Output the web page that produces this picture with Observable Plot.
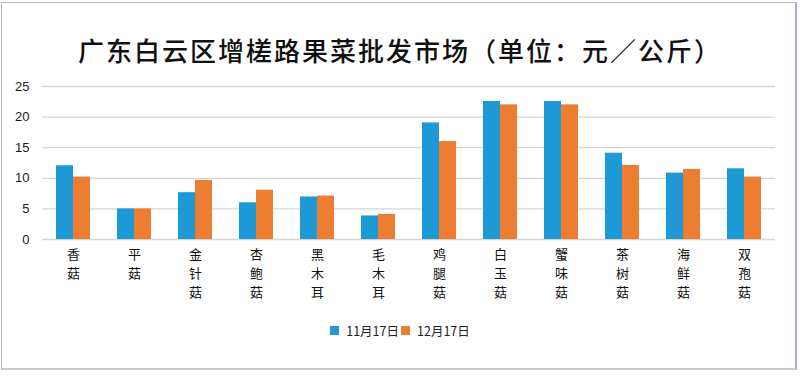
<!DOCTYPE html>
<html>
<head>
<meta charset="utf-8">
<script src="https://cdn.jsdelivr.net/npm/d3@7"></script>
<script src="https://cdn.jsdelivr.net/npm/@observablehq/plot@0.6"></script>
<style>
  html, body { margin: 0; padding: 0; background: #fff; }
  body { width: 800px; height: 376px; position: relative; overflow: hidden; font-family: "Noto Sans CJK SC", "Liberation Sans", sans-serif; }
  #frame { position: absolute; left: 1px; top: 2px; width: 796px; height: 368px; box-sizing: border-box;
           border-top: 1px solid #bdbdbd; border-left: 1px solid #bdbdbd; border-bottom: 2px solid #c9c9c9; border-right: 2px solid #a9a9f6; }
  #title { position: absolute; left: 0; top: 33px; width: 800px; text-align: center; font-size: 26px; line-height: 34px;
           letter-spacing: 2px; color: #111; font-weight: 500; font-family: "Noto Sans CJK SC", sans-serif; }
  #chart { position: absolute; left: 0; top: 70px; }
  #legend { position: absolute; left: 0; top: 322px; width: 800px; text-align: center; font-size: 12.5px; color: #222;
            font-family: "Noto Sans CJK SC", sans-serif; line-height: 16px; }
  #legend span.item { display: inline-flex; align-items: center; margin: 0 1px; }
  #legend span.sw { display: inline-block; width: 9px; height: 9px; margin-right: 7px; }
</style>
</head>
<body>
<div id="frame"></div>
<div id="title"></div>
<div id="chart"></div>
<div id="legend"></div>
<script>
const title = "广东白云区增槎路果菜批发市场（单位：元／公斤）";
const categories = ["香菇","平菇","金针菇","杏鲍菇","黑木耳","毛木耳","鸡腿菇","白玉菇","蟹味菇","茶树菇","海鲜菇","双孢菇"];
const seriesNames = ["11月17日","12月17日"];
const nov17 = [12.05, 5.0, 7.65, 6.0, 6.95, 3.85, 19.05, 22.55, 22.55, 14.1, 10.85, 11.55];
const dec17 = [10.2, 5.0, 9.65, 8.05, 7.1, 4.1, 16.0, 22.0, 22.0, 12.1, 11.45, 10.2];
const yTicks = [0, 5, 10, 15, 20, 25];
const colors = ["#1d9ad6", "#ed7d31"];

document.getElementById("title").textContent = title;

const rowsA = categories.map((c, i) => ({cat: c, value: nov17[i]}));
const rowsB = categories.map((c, i) => ({cat: c, value: dec17[i]}));

const xOpts = {domain: categories, paddingInner: 0.45, paddingOuter: 0.22};
const common = {
  width: 800, height: 240,
  marginLeft: 42, marginRight: 25, marginTop: 16, marginBottom: 71,
  style: {background: "transparent", overflow: "visible"}
};

// vertical (stacked) category labels: one axis per character row
const maxChars = d3.max(categories, c => Array.from(c).length);
const lineStep = 19;

function build(bw) {
  const half = bw / 2;
  const labelAxes = d3.range(maxChars).map(k =>
    Plot.axisX({tickSize: 0, tickPadding: 10 + k * lineStep, fontSize: 13, fill: "#111",
      fontFamily: "Noto Sans CJK SC, sans-serif", label: null,
      tickFormat: d => Array.from(d)[k] || ""}));
  return Plot.plot({
    ...common,
    x: {...xOpts, label: null},
    y: {domain: [0, 25], label: null},
    marks: [
      Plot.ruleY(yTicks, {stroke: "#d6d6d6", strokeWidth: 1.3}),
      Plot.axisY(yTicks, {tickSize: 0, tickPadding: 13, fontSize: 13, fill: "#1a1a1a",
        fontFamily: "Liberation Sans, Arial, sans-serif", label: null}),
      ...labelAxes,
      Plot.barY(rowsA, {x: "cat", y: "value", fill: colors[0], insetLeft: 0, insetRight: half}),
      Plot.barY(rowsB, {x: "cat", y: "value", fill: colors[1], insetLeft: half, insetRight: 0})
    ]
  });
}

const probe = build(0);
const bw = probe.scale("x").bandwidth;
const plot = build(bw);
document.getElementById("chart").appendChild(plot);

const legend = document.getElementById("legend");
seriesNames.forEach((name, i) => {
  const item = document.createElement("span");
  item.className = "item";
  const sw = document.createElement("span");
  sw.className = "sw";
  sw.style.background = colors[i];
  item.appendChild(sw);
  item.appendChild(document.createTextNode(name));
  legend.appendChild(item);
});
</script>
</body>
</html>
